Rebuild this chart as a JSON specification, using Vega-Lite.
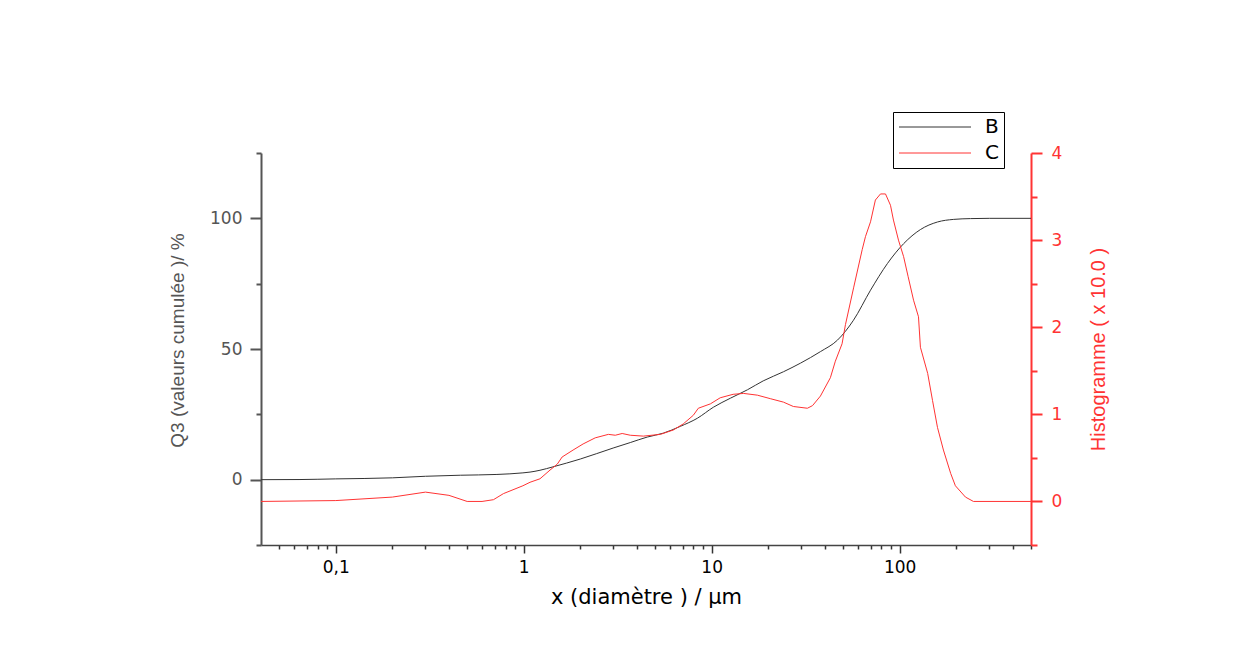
{
  "$schema": "https://vega.github.io/schema/vega-lite/v6.json",
  "width": 770,
  "height": 392,
  "autosize": {"type": "none"},
  "padding": {"left": 261, "top": 153, "right": 214, "bottom": 110},
  "background": "white",
  "config": {"view": {"stroke": null}, "axis": {"grid": false}},
  "datasets": {
    "B": [
      {"x": 0.04, "q3": 0}, {"x": 0.0645, "q3": 0.05}, {"x": 0.1, "q3": 0.3}, {"x": 0.2, "q3": 0.7},
      {"x": 0.3, "q3": 1.3}, {"x": 0.46, "q3": 1.7}, {"x": 0.72, "q3": 2.0}, {"x": 0.99, "q3": 2.6},
      {"x": 1.08, "q3": 2.9}, {"x": 1.22, "q3": 3.6}, {"x": 1.43, "q3": 4.9}, {"x": 2.0, "q3": 7.9},
      {"x": 2.99, "q3": 12.1}, {"x": 3.69, "q3": 14.2}, {"x": 4.54, "q3": 16.3}, {"x": 5.53, "q3": 17.8},
      {"x": 6.81, "q3": 20.4}, {"x": 8.39, "q3": 23.5}, {"x": 10.2, "q3": 27.7}, {"x": 12.6, "q3": 31.2},
      {"x": 15.5, "q3": 34.4}, {"x": 18.8, "q3": 37.8}, {"x": 24.1, "q3": 41.3}, {"x": 29.7, "q3": 44.6},
      {"x": 37.9, "q3": 49.0}, {"x": 46.7, "q3": 53.4}, {"x": 56.8, "q3": 61}, {"x": 70, "q3": 72.5},
      {"x": 86.1, "q3": 82.7}, {"x": 105, "q3": 90.3}, {"x": 129, "q3": 95.7}, {"x": 159, "q3": 98.6},
      {"x": 194, "q3": 99.6}, {"x": 238, "q3": 99.9}, {"x": 300, "q3": 100}, {"x": 500, "q3": 100}
    ],
    "C": [
      {"x": 0.04, "h": 0}, {"x": 0.1, "h": 0.01}, {"x": 0.2, "h": 0.05}, {"x": 0.3, "h": 0.107},
      {"x": 0.4, "h": 0.07}, {"x": 0.5, "h": 0}, {"x": 0.6, "h": 0}, {"x": 0.69, "h": 0.02},
      {"x": 0.78, "h": 0.09}, {"x": 0.99, "h": 0.18}, {"x": 1.08, "h": 0.22}, {"x": 1.22, "h": 0.26},
      {"x": 1.38, "h": 0.36}, {"x": 1.51, "h": 0.43}, {"x": 1.6, "h": 0.51}, {"x": 1.83, "h": 0.59},
      {"x": 2.07, "h": 0.66}, {"x": 2.4, "h": 0.73}, {"x": 2.82, "h": 0.77}, {"x": 3.07, "h": 0.76},
      {"x": 3.34, "h": 0.78}, {"x": 3.69, "h": 0.76}, {"x": 4.33, "h": 0.75}, {"x": 5.33, "h": 0.77},
      {"x": 6.25, "h": 0.82}, {"x": 7.06, "h": 0.89}, {"x": 7.99, "h": 0.99}, {"x": 8.49, "h": 1.07},
      {"x": 9.84, "h": 1.12}, {"x": 11.1, "h": 1.19}, {"x": 13.0, "h": 1.23}, {"x": 14.8, "h": 1.24},
      {"x": 17.5, "h": 1.22}, {"x": 20.5, "h": 1.18}, {"x": 24.1, "h": 1.14}, {"x": 27.2, "h": 1.09},
      {"x": 32.3, "h": 1.07}, {"x": 34.4, "h": 1.1}, {"x": 37.9, "h": 1.21}, {"x": 42.8, "h": 1.42},
      {"x": 45.5, "h": 1.61}, {"x": 49.4, "h": 1.81}, {"x": 51.5, "h": 2.03}, {"x": 57.0, "h": 2.46},
      {"x": 63.2, "h": 2.89}, {"x": 65.8, "h": 3.04}, {"x": 70, "h": 3.21}, {"x": 74.3, "h": 3.46},
      {"x": 79.1, "h": 3.53}, {"x": 84.1, "h": 3.53}, {"x": 89.4, "h": 3.4}, {"x": 92.7, "h": 3.23},
      {"x": 98.6, "h": 3.0}, {"x": 105, "h": 2.81}, {"x": 111, "h": 2.58}, {"x": 118.6, "h": 2.31},
      {"x": 126, "h": 2.12}, {"x": 129, "h": 1.77}, {"x": 141, "h": 1.47}, {"x": 149.6, "h": 1.16},
      {"x": 159, "h": 0.85}, {"x": 171, "h": 0.59}, {"x": 187, "h": 0.32}, {"x": 198, "h": 0.18},
      {"x": 224, "h": 0.05}, {"x": 247, "h": 0}, {"x": 500, "h": 0}
    ]
  },
  "layer": [
    {
      "data": {"name": "B"},
      "mark": {"type": "line", "strokeWidth": 1, "interpolate": "monotone"},
      "encoding": {
        "x": {
          "field": "x", "type": "quantitative",
          "scale": {"type": "log", "domain": [0.04, 500], "nice": false},
          "axis": {
            "values": [0.05, 0.06, 0.07, 0.08, 0.09, 0.1, 0.2, 0.3, 0.4, 0.5, 0.6, 0.7, 0.8, 0.9, 1, 2, 3, 4, 5, 6, 7, 8, 9, 10, 20, 30, 40, 50, 60, 70, 80, 90, 100, 200, 300, 400, 500],
            "labelExpr": "datum.value == 0.1 ? '0,1' : datum.value == 1 ? '1' : datum.value == 10 ? '10' : datum.value == 100 ? '100' : ''",
            "tickSize": {"condition": {"test": "datum.value == 0.1 || datum.value == 1 || datum.value == 10 || datum.value == 100", "value": 8}, "value": 4},
            "tickColor": "#333333", "tickWidth": 1.5,
            "domainColor": "#444444", "domainWidth": 1.5,
            "labelColor": "black", "labelFont": "DejaVu Sans", "labelFontSize": 17,
            "labelPadding": 6, "labelFlush": false, "labelOverlap": false,
            "title": "x (diamètre ) / µm", "titleFont": "DejaVu Sans", "titleFontSize": 21,
            "titleFontWeight": "normal", "titleColor": "black",
            "titleX": 385, "titleY": 52, "titleBaseline": "middle", "titleAlign": "center"
          }
        },
        "y": {
          "field": "q3", "type": "quantitative",
          "scale": {"domain": [-25, 125], "nice": false, "zero": false},
          "axis": {
            "orient": "left",
            "values": [-25, 0, 25, 50, 75, 100, 125],
            "labelExpr": "datum.value % 50 === 0 ? datum.label : ''",
            "tickSize": {"condition": {"test": "datum.value % 50 === 0", "value": 11}, "value": 5},
            "tickColor": "#555555", "tickWidth": 2,
            "domainColor": "#555555", "domainWidth": 2,
            "labelColor": "#555555", "labelFont": "DejaVu Sans", "labelFontSize": 17,
            "labelPadding": 8, "labelFlush": false, "labelOverlap": false,
            "title": "Q3 (valeurs  cumulée )/ %", "titleFont": "Liberation Sans", "titleFontSize": 19,
            "titleFontWeight": "normal", "titleColor": "#555555",
            "titleAngle": 270, "titleX": -84, "titleY": 187, "titleBaseline": "middle", "titleAlign": "center"
          }
        },
        "color": {
          "datum": "B",
          "scale": {"domain": ["B", "C"], "range": ["#333333", "#ff3333"]},
          "legend": {
            "title": null, "orient": "none", "legendX": 632, "legendY": -41,
            "direction": "vertical", "strokeColor": "black", "fillColor": "white",
            "padding": 5, "symbolType": "M-4,0H4", "symbolSize": 324, "symbolStrokeWidth": 1,
            "symbolOffset": 27, "labelOffset": 40,
            "labelFont": "DejaVu Sans", "labelFontSize": 20, "labelColor": "black", "rowPadding": 6
          }
        }
      }
    },
    {
      "data": {"name": "C"},
      "mark": {"type": "line", "strokeWidth": 1},
      "encoding": {
        "x": {"field": "x", "type": "quantitative"},
        "y": {
          "field": "h", "type": "quantitative",
          "scale": {"domain": [-0.5, 4], "nice": false, "zero": false},
          "axis": {
            "orient": "right",
            "values": [-0.5, 0, 0.5, 1, 1.5, 2, 2.5, 3, 3.5, 4],
            "labelExpr": "datum.value % 1 === 0 ? format(datum.value, 'd') : ''",
            "tickSize": {"condition": {"test": "datum.value % 1 === 0", "value": 11}, "value": 6},
            "tickColor": "#ff3333", "tickWidth": 2,
            "domainColor": "#ff3333", "domainWidth": 2,
            "labelColor": "#ff3333", "labelFont": "DejaVu Sans", "labelFontSize": 17,
            "labelPadding": 9, "labelFlush": false, "labelOverlap": false,
            "title": "Histogramme ( x 10.0 )", "titleFont": "Liberation Sans", "titleFontSize": 20,
            "titleFontWeight": "normal", "titleColor": "#ff3333",
            "titleAngle": 270, "titleX": 67, "titleY": 196, "titleBaseline": "middle", "titleAlign": "center"
          }
        },
        "color": {"datum": "C"}
      }
    }
  ],
  "resolve": {"scale": {"y": "independent"}}
}
